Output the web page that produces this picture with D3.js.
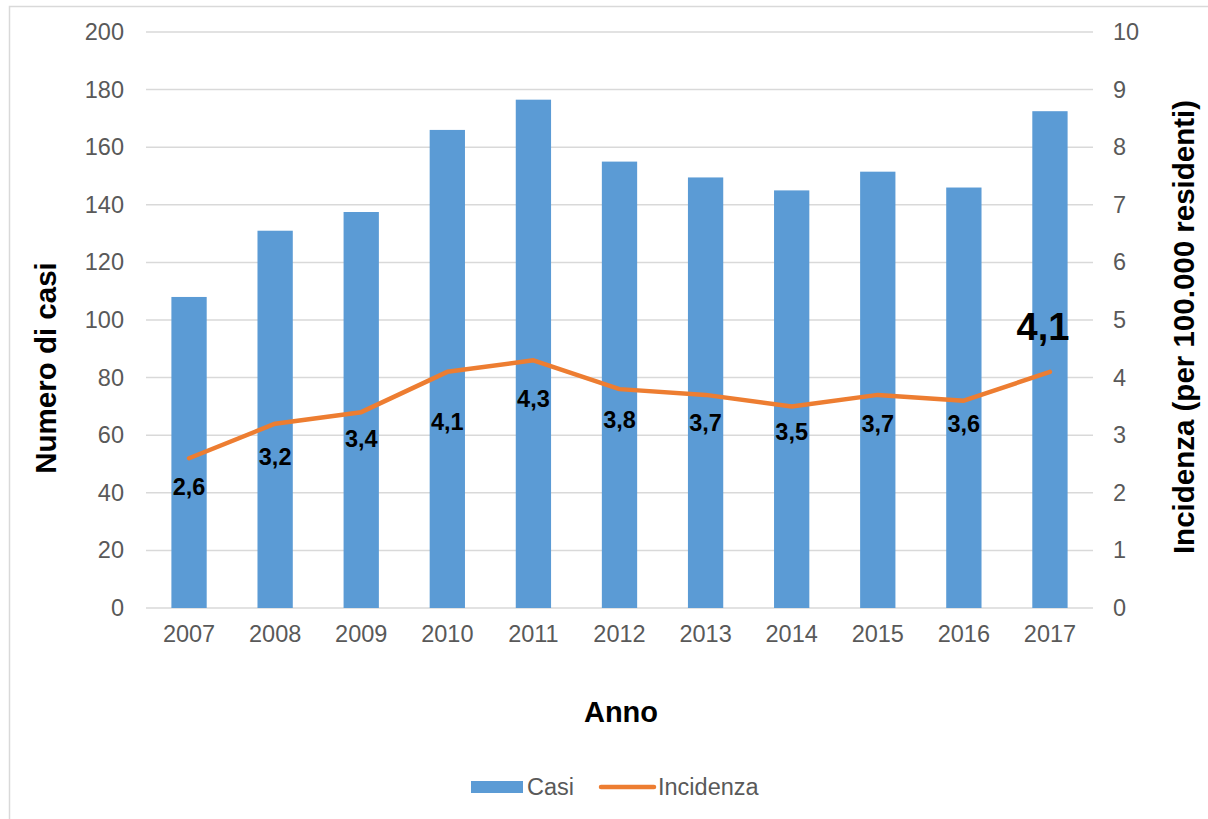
<!DOCTYPE html>
<html>
<head>
<meta charset="utf-8">
<script src="https://cdn.jsdelivr.net/npm/d3@7/dist/d3.min.js"></script>
<style>
  html, body { margin: 0; padding: 0; background: #fff; }
  svg { display: block; font-family: Arial, "Liberation Sans", sans-serif; }
</style>
</head>
<body>
<svg id="chart" width="1208" height="819"></svg>
<script>
// Cases per year (left axis) and incidence per 100,000 residents (right axis)
const years = ["2007","2008","2009","2010","2011","2012","2013","2014","2015","2016","2017"];
const casi = [108, 131, 137.5, 166, 176.5, 155, 149.5, 145, 151.5, 146, 172.5];
const incidenza = [2.6, 3.2, 3.4, 4.1, 4.3, 3.8, 3.7, 3.5, 3.7, 3.6, 4.1];
const incidenzaLabels = ["2,6","3,2","3,4","4,1","4,3","3,8","3,7","3,5","3,7","3,6","4,1"];
const leftTicks = [0, 20, 40, 60, 80, 100, 120, 140, 160, 180, 200];
const rightTicks = [0, 1, 2, 3, 4, 5, 6, 7, 8, 9, 10];
// offset of each data label from its point (px, to the baseline centre)
const labelDx = [0, 0, 0, 0, 0, 0, 0, 0, 0, 0, -7];
const labelDy = [37, 41, 35, 58, 47, 39, 36, 34, 37, 31, -32];

const svg = d3.select("#chart");
const W = 1208, H = 819;
const plot = { left: 146, right: 1093, top: 32, bottom: 608 };

const textGray = "#595959";
const gridGray = "#D9D9D9";
const barBlue = "#5B9BD5";
const lineOrange = "#ED7D31";
const tickFont = "23.5px";

// outer frame
svg.append("rect")
  .attr("x", 9.5).attr("y", 6.5)
  .attr("width", W + 10).attr("height", H + 10)
  .attr("fill", "#fff").attr("stroke", "#D9D9D9").attr("stroke-width", 1.5);

const x = d3.scaleBand().domain(years).range([plot.left, plot.right]).paddingInner(0.59).paddingOuter(0.295);
const yL = d3.scaleLinear().domain([0, 200]).range([plot.bottom, plot.top]);
const yR = d3.scaleLinear().domain([0, 10]).range([plot.bottom, plot.top]);

// gridlines
svg.append("g").selectAll("line").data(leftTicks).join("line")
  .attr("x1", plot.left).attr("x2", plot.right)
  .attr("y1", d => yL(d)).attr("y2", d => yL(d))
  .attr("stroke", gridGray).attr("stroke-width", 1.5);

// left axis
const axL = svg.append("g").attr("transform", `translate(${plot.left},0)`)
  .call(d3.axisLeft(yL).tickValues(leftTicks).tickSize(0).tickPadding(22));
axL.select(".domain").remove();
axL.selectAll("text").attr("fill", textGray).style("font-size", tickFont).style("font-family", "Arial, 'Liberation Sans', sans-serif");

// right axis
const axR = svg.append("g").attr("transform", `translate(${plot.right},0)`)
  .call(d3.axisRight(yR).tickValues(rightTicks).tickSize(0).tickPadding(20));
axR.select(".domain").remove();
axR.selectAll("text").attr("fill", textGray).style("font-size", tickFont).style("font-family", "Arial, 'Liberation Sans', sans-serif");

// bottom axis
const axB = svg.append("g").attr("transform", `translate(0,${plot.bottom})`)
  .call(d3.axisBottom(x).tickSize(0).tickPadding(17));
axB.select(".domain").remove();
axB.selectAll("text").attr("fill", textGray).style("font-size", tickFont).style("font-family", "Arial, 'Liberation Sans', sans-serif");

// bars
svg.append("g").selectAll("rect").data(years).join("rect")
  .attr("x", d => x(d))
  .attr("y", (d, i) => yL(casi[i]))
  .attr("width", x.bandwidth())
  .attr("height", (d, i) => yL(0) - yL(casi[i]))
  .attr("fill", barBlue);

// incidence line
const line = d3.line()
  .x((d, i) => x(years[i]) + x.bandwidth() / 2)
  .y(d => yR(d));
svg.append("path").datum(incidenza)
  .attr("d", line)
  .attr("fill", "none").attr("stroke", lineOrange)
  .attr("stroke-width", 4.5).attr("stroke-linejoin", "round").attr("stroke-linecap", "round");

// data labels
svg.append("g").selectAll("text").data(incidenza).join("text")
  .attr("x", (d, i) => x(years[i]) + x.bandwidth() / 2 + labelDx[i])
  .attr("y", (d, i) => yR(d) + labelDy[i])
  .attr("text-anchor", "middle")
  .attr("font-weight", "bold")
  .attr("fill", "#000")
  .style("font-size", (d, i) => i === incidenza.length - 1 ? "38px" : "23.5px")
  .text((d, i) => incidenzaLabels[i]);

// axis titles
svg.append("text")
  .attr("transform", "translate(56,368) rotate(-90)")
  .attr("text-anchor", "middle").attr("font-weight", "bold")
  .style("font-size", "29.5px").attr("fill", "#000")
  .text("Numero di casi");

svg.append("text")
  .attr("transform", "translate(1194,327) rotate(-90)")
  .attr("text-anchor", "middle").attr("font-weight", "bold")
  .style("font-size", "29.5px").attr("fill", "#000")
  .text("Incidenza (per 100.000 residenti)");

svg.append("text")
  .attr("x", 621).attr("y", 722)
  .attr("text-anchor", "middle").attr("font-weight", "bold")
  .style("font-size", "29px").attr("fill", "#000")
  .text("Anno");

// legend
const lg = svg.append("g");
lg.append("rect").attr("x", 471).attr("y", 781).attr("width", 52).attr("height", 12).attr("fill", barBlue);
lg.append("text").attr("x", 527).attr("y", 795).style("font-size", tickFont).attr("fill", textGray).text("Casi");
lg.append("line").attr("x1", 601).attr("x2", 654).attr("y1", 787).attr("y2", 787)
  .attr("stroke", lineOrange).attr("stroke-width", 4.5).attr("stroke-linecap", "round");
lg.append("text").attr("x", 658).attr("y", 795).style("font-size", tickFont).attr("fill", textGray).text("Incidenza");
</script>
</body>
</html>
